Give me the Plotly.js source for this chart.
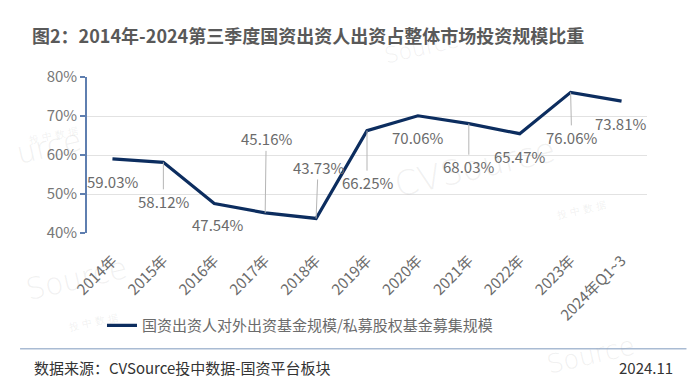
<!DOCTYPE html>
<html><head><meta charset="utf-8">
<script src="https://cdn.plot.ly/plotly-3.0.1.min.js"></script>
<style>html,body{margin:0;padding:0;background:#fff;}#chart{width:687px;height:390px;}</style>
</head><body><div id="chart"></div>
<script>
const categories = ['2014年','2015年','2016年','2017年','2018年','2019年','2020年','2021年','2022年','2023年','2024年Q1~3'];
const ratios = [59.03, 58.12, 47.54, 45.16, 43.73, 66.25, 70.06, 68.03, 65.47, 76.06, 73.81];
const seriesName = '国资出资人对外出资基金规模/私募股权基金募集规模';
const yTicks = [40, 50, 60, 70, 80];
const yTickText = yTicks.map(v => v + '%');

// label offsets (px) relative to each point, and whether a leader line is drawn
const labelOffsets = [[0,23,0],[0,39,1],[3,21,0],[1,-74,1],[2,-51,1],[0,52,1],[0,22,0],[0,43,1],[0,23,0],[1,45,1],[-1,22,0]];

const FONT = '"Noto Sans CJK SC", "Noto Sans", sans-serif';
const PW = 560.5, PH = 156, L = 87, T = 77.3;
function px2paper(x, y){ return [(x - L)/PW, (T + PH - y)/PH]; }

const annotations = ratios.map((v,i)=>({
  x: categories[i], y: v, xref:'x', yref:'y',
  text: v.toFixed(2)+'%',
  showarrow: true, arrowhead: 0, arrowwidth: 1,
  arrowcolor: labelOffsets[i][2] ? '#b5b5b5' : 'rgba(0,0,0,0)',
  ax: labelOffsets[i][0], ay: labelOffsets[i][1],
  font: {family: FONT, size: 15, color: '#6b6b6b'}
}));

function wm(x, y, text, size, ang){
  const p = px2paper(x, y);
  return {x:p[0], y:p[1], xref:'paper', yref:'paper', text:text, showarrow:false,
    textangle: ang, font:{family:'"DejaVu Sans", sans-serif', weight:200, size:size, color:'rgba(150,150,150,0.14)'}};
}
annotations.push(wm(562, 208, 'CVSource', 34, -13));
annotations.push(wm(610, 224, '投 中 数 据', 10, -13));
annotations.push(wm(10, 120, 'urce', 30, -13));
annotations.push(wm(25, 136, '投 中 数 据', 10, -13));
annotations.push(wm(20, 310, 'Source', 30, -13));
annotations.push(wm(65, 336, '投 中 数 据', 10, -13));
annotations.push(wm(465, 25, 'Source', 22, -13));
annotations.push(wm(640, 382, 'Source', 26, -13));

let p = px2paper(32, 368);
annotations.push({x:p[0], y:p[1], xref:'paper', yref:'paper', xanchor:'left', yanchor:'middle', showarrow:false,
  text:'数据来源：CVSource投中数据-国资平台板块', font:{family:FONT, size:15, color:'#333'}});
p = px2paper(676, 368);
annotations.push({x:p[0], y:p[1], xref:'paper', yref:'paper', xanchor:'right', yanchor:'middle', showarrow:false,
  text:'2024.11', font:{family:FONT, size:15, color:'#333'}});

const lp0 = px2paper(20, 349), lp1 = px2paper(687, 349);
const shapes = [{type:'line', xref:'paper', yref:'paper', x0:lp0[0], x1:lp1[0], y0:lp0[1], y1:lp0[1],
  line:{color:'#a9bbd3', width:1.5}}];

const lg = px2paper(102, 326);

Plotly.newPlot('chart', [{
  x: categories, y: ratios, type:'scatter', mode:'lines', name: seriesName,
  line:{color:'#0c2d5f', width:3.2}
}], {
  width: 687, height: 390,
  margin:{l:L, r:687-L-PW, t:T, b:390-T-PH},
  paper_bgcolor:'#fff', plot_bgcolor:'#fff',
  title:{text:'图2：2014年-2024第三季度国资出资人出资占整体市场投资规模比重', x:32/687, xanchor:'left', xref:'container',
    y:1-37/390, yanchor:'middle', yref:'container', font:{family:FONT, size:18, color:'#595959', weight:'bold'}},
  xaxis:{type:'category', range:[-0.5, 10.5], tickangle:-45, showgrid:false, showline:false, ticks:'',
    ticklabelstandoff:15, automargin:false,
    tickfont:{family:FONT, size:15, color:'#6b6b6b'}},
  yaxis:{range:[40, 80], tickmode:'array', tickvals:yTicks, ticktext:yTickText, showgrid:true, gridcolor:'#e2e2e2', gridwidth:1,
    showline:true, linecolor:'#5f7fb0', linewidth:1.8, ticks:'outside', ticklen:5, tickwidth:1.5, tickcolor:'#5f7fb0', zeroline:false,
    automargin:false, tickfont:{family:FONT, size:15, color:'#777'}},
  showlegend:true,
  legend:{orientation:'h', x:lg[0], y:lg[1], xanchor:'left', yanchor:'middle', font:{family:FONT, size:15, color:'#6b6b6b'}},
  annotations: annotations, shapes: shapes
}, {displayModeBar:false, staticPlot:true});
</script></body></html>
